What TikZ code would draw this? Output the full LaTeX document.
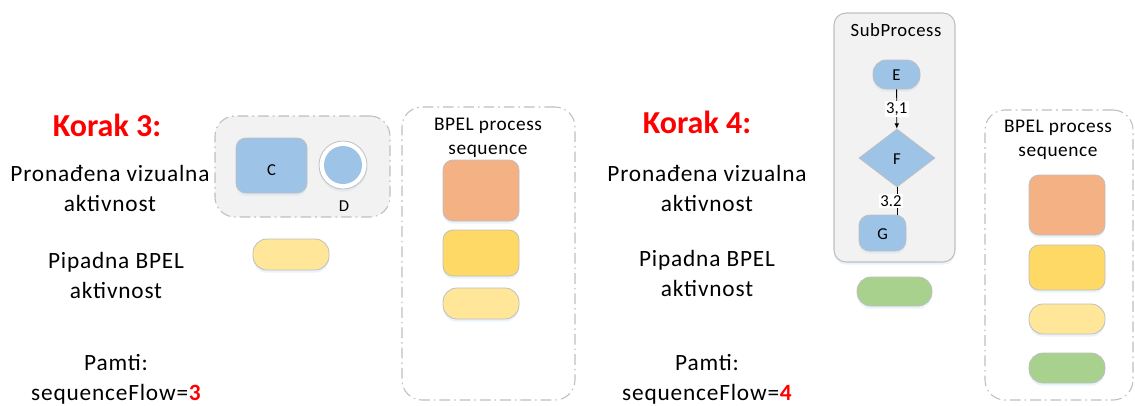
\documentclass[tikz,border=0pt]{standalone}
\usepackage{fontspec}
\setmainfont{Carlito}
\usetikzlibrary{shapes.geometric,arrows.meta,shadows}
\definecolor{bblue}{HTML}{9DC3E6}
\definecolor{borange}{HTML}{F4B183}
\definecolor{bgold}{HTML}{FFD966}
\definecolor{bpale}{HTML}{FFE699}
\definecolor{bgreen}{HTML}{A9D18E}
\definecolor{grpfill}{HTML}{F2F2F2}
\definecolor{edgegray}{HTML}{BFBFBF}
\definecolor{kred}{HTML}{FF0000}
\tikzset{
  shd/.style={drop shadow={shadow xshift=0pt, shadow yshift=-2pt, fill=bblue!60, opacity=0.35}},
  act/.style={draw=edgegray, line width=0.6pt, rounded corners=7.5pt, inner sep=0pt, shd},
  pill/.style={draw=edgegray, line width=0.6pt, rounded corners=10.5pt, inner sep=0pt, shd, minimum width=57pt, minimum height=23.25pt},
  dashbox/.style={draw=edgegray, line width=0.8pt, dash pattern=on 8pt off 3pt on 1.2pt off 3pt, rounded corners=15pt, inner sep=0pt},
  body/.style={font=\fontsize{17.5}{22.5}\selectfont\addfontfeature{LetterSpace=3.5}, align=center, inner sep=0pt},
  korak/.style={font=\fontsize{24}{28}\selectfont\bfseries, text=kred, inner sep=0pt},
  small/.style={font=\fontsize{12.5}{14}\selectfont, inner sep=0pt},
  mid/.style={font=\fontsize{14.5}{18}\selectfont\addfontfeature{LetterSpace=3}, align=center, inner sep=0pt},
}
\begin{document}
\begin{tikzpicture}[x=0.75pt,y=-0.75pt]
\useasboundingbox (0,0) rectangle (1135,405);
% ---------- Korak 3 ----------
\node[korak] (k3) at (107,125) {Korak 3:};
\node[body] (pv3) at (110,188) {Pronađena vizualna\\aktivnost};
\node[body] (pb3) at (116,275) {Pipadna BPEL\\aktivnost};
\node[body] (pm3) at (116,379) {Pamti:\\sequenceFlow=\textbf{\textcolor{kred}{3}}};
\node[dashbox, fill=grpfill, minimum width=131.25pt, minimum height=75.75pt] (grp3) at (302.5,166.5) {};
\node[act, fill=bblue, minimum width=53.25pt, minimum height=41.25pt] (C) at (271.5,165.5) {};
\node[small] (Clab) at (271.5,170) {C};
\node[circle, draw=edgegray, line width=0.6pt, fill=white, minimum size=36pt, inner sep=0pt, shd] (Dout) at (343,165) {};
\node[circle, fill=bblue, minimum size=28.5pt, inner sep=0pt] (D) at (343,165) {};
\node[small] (Dlab) at (344,206) {D};
\node[pill, fill=bpale] (p3) at (291,254.5) {};
% BPEL process sequence 1
\node[dashbox, minimum width=129.75pt, minimum height=219.75pt] (bp1) at (488.5,253.5) {};
\node[mid] (bp1t) at (488,138) {BPEL process\\sequence};
\node[act, fill=borange, minimum width=57pt, minimum height=45.75pt] (o1) at (481,190.5) {};
\node[act, fill=bgold, minimum width=57pt, minimum height=34.5pt] (y1) at (481,253) {};
\node[pill, fill=bpale] (l1) at (481,303.5) {};
% ---------- Korak 4 ----------
\node[korak] (k4) at (697,122) {Korak 4:};
\node[body] (pv4) at (707,188) {Pronađena vizualna\\aktivnost};
\node[body] (pb4) at (707,273) {Pipadna BPEL\\aktivnost};
\node[body] (pm4) at (707,379) {Pamti:\\sequenceFlow=\textbf{\textcolor{kred}{4}}};
\node[draw=edgegray, line width=0.8pt, fill=grpfill, rounded corners=9pt, minimum width=90.75pt, minimum height=186.75pt, inner sep=0pt, shd] (sp) at (894.5,137.5) {};
\node[font=\fontsize{14}{16}\selectfont\addfontfeature{LetterSpace=3}, inner sep=0pt] (spt) at (896,30) {SubProcess};
\node[draw=edgegray, line width=0.6pt, fill=bblue, rounded corners=10pt, minimum width=35.25pt, minimum height=21.75pt, inner sep=0pt, shd] (E) at (896.5,74.5) {};
\node[small] (Elab) at (896.5,75) {E};
\node[diamond, draw=edgegray, line width=0.6pt, fill=bblue, minimum width=57pt, minimum height=43.5pt, inner sep=0pt] (F) at (897,158) {};
\node[small] (Flab) at (897,159) {F};
\node[act, fill=bblue, minimum width=35.25pt, minimum height=27pt, rounded corners=8pt] (G) at (882.5,233) {};
\node[small] (Glab) at (882.5,234) {G};
\draw[line width=0.6pt, -{Latex[length=4pt,width=3.5pt]}] (E) -- node[small, fill=white, inner sep=1pt] (l31) {3,1} (F);
\draw[line width=0.6pt] (F.south) -- node[small, fill=white, inner sep=1pt, xshift=-4.5pt] (l32) {3.2} (F.south |- G.north);
\node[pill, fill=bgreen, minimum width=56.25pt, minimum height=21.75pt] (g4) at (894.5,291.5) {};
% BPEL process sequence 2
\node[dashbox, minimum width=111pt, minimum height=217.5pt] (bp2) at (1059,255) {};
\node[mid] (bp2t) at (1058,140) {BPEL process\\sequence};
\node[act, fill=borange, minimum width=57pt, minimum height=45pt] (o2) at (1067,205) {};
\node[act, fill=bgold, minimum width=57pt, minimum height=33.75pt] (y2) at (1067,267.5) {};
\node[pill, fill=bpale, minimum height=22.5pt] (l2) at (1067,319) {};
\node[pill, fill=bgreen, minimum height=22.5pt] (gr2) at (1067,368) {};
\end{tikzpicture}
\end{document}
